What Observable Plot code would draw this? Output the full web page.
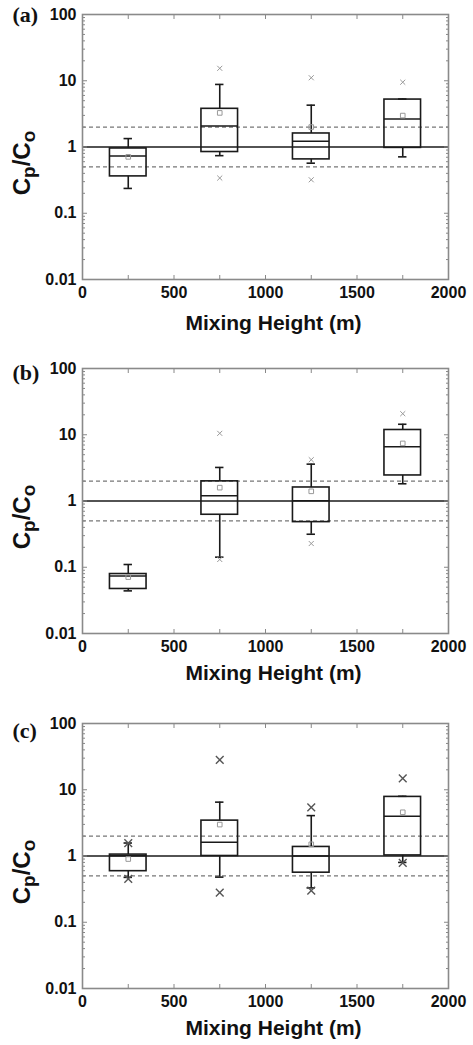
<!DOCTYPE html>
<html><head><meta charset="utf-8">
<script src="https://cdn.jsdelivr.net/npm/d3@7"></script>
<script src="https://cdn.jsdelivr.net/npm/@observablehq/plot@0.6"></script>
<style>
body{margin:0;background:#fff;}
#wrap{position:relative;width:473px;height:1045px;overflow:hidden;background:#fff;}
.panel{position:absolute;left:0;}
</style></head><body><div id="wrap"></div>
<script>
// ---- data ----
const mixingHeights = [250, 750, 1250, 1750];
const panelLabels = ["(a)", "(b)", "(c)"];
const xTicks = [0, 500, 1000, 1500, 2000];
const xMinorTicks = [250, 500, 750, 1000, 1250, 1500, 1750];
const yTicks = [0.01, 0.1, 1, 10, 100];
const yTickLabels = ["0.01", "0.1", "1", "10", "100"];
const refLine = [1];
const factorOfTwoLines = [0.5, 2];
const xTitle = "Mixing Height (m)";

// box statistics per panel [(a), (b), (c)], per mixing-height bin
const whiskerLow  = [[0.237, 0.74, 0.57, 0.71], [0.044, 0.142, 0.315, 1.82], [0.476, 0.48, 0.33, 0.80]];
const quartile1   = [[0.36, 0.84, 0.65, 0.97],  [0.047, 0.62, 0.48, 2.43],   [0.59, 1.00, 0.56, 1.02]];
const median      = [[0.73, 2.08, 1.22, 2.65],  [0.0736, 1.20, 1.01, 6.6],   [1.01, 1.61, 1.00, 3.98]];
const quartile3   = [[0.95, 3.77, 1.60, 5.2],   [0.079, 1.98, 1.60, 11.8],   [1.05, 3.42, 1.37, 7.8]];
const whiskerHigh = [[1.34, 8.8, 4.28, 5.3],    [0.11, 3.21, 3.6, 14.4],     [1.57, 6.5, 4.07, 7.97]];
const meanValue   = [[0.71, 3.27, 2.0, 2.98],   [0.071, 1.59, 1.40, 7.4],    [0.90, 2.98, 1.50, 4.57]];
const outlierLow  = [[null, 0.34, 0.32, null],  [null, 0.131, 0.228, null],  [0.45, 0.279, 0.30, 0.785]];
const outlierHigh = [[null, 15.4, 11.1, 9.5],   [null, 10.5, 4.2, 20.8],     [1.57, 28.2, 5.4, 14.9]];

// ---- layout / style ----
const panelTops = [0, 354, 709];
const labelDy = [7, 11, 14];
const titleDy = [44, 40, 40];
const boxHalf = 100, capHalf = 23;
const yMinorTicks = [];
for (let e = -2; e < 2; e++) for (let m = 2; m <= 9; m++) yMinorTicks.push(m * Math.pow(10, e));

const wrap = document.getElementById("wrap");
const font = "'Liberation Sans', Arial, sans-serif";

panelLabels.forEach((lab, p) => {
  const rows = mixingHeights.map((h, i) => ({
    h, lo: whiskerLow[p][i], q1: quartile1[p][i], med: median[p][i], q3: quartile3[p][i],
    hi: whiskerHigh[p][i], mean: meanValue[p][i], oLo: outlierLow[p][i], oHi: outlierHigh[p][i]
  }));
  const big = p === 2;
  const outStyle = {symbol: "times", r: big ? 3.6 : 2.4, stroke: big ? "#555" : "#999", strokeWidth: big ? 1.4 : 1};
  const line = {stroke: "#1a1a1a", strokeWidth: 1.6};
  const noText = () => "";
  const tickStyle = {tickFormat: noText, label: null, stroke: "#888", strokeWidth: 1};
  const chart = Plot.plot({
    width: 473, height: 336,
    marginLeft: 82, marginRight: 25, marginTop: 14, marginBottom: 57,
    style: {fontFamily: font, background: "white", overflow: "visible"},
    x: {domain: [0, 2000], label: null},
    y: {type: "log", domain: [0.01, 100], label: null},
    marks: [
      Plot.ruleY(factorOfTwoLines, {stroke: "#777", strokeWidth: 1.3, strokeDasharray: "4,3"}),
      Plot.ruleY(refLine, {stroke: "#1a1a1a", strokeWidth: 1.6}),
      Plot.ruleX(rows, {x: "h", y1: "q3", y2: "hi", ...line}),
      Plot.ruleX(rows, {x: "h", y1: "lo", y2: "q1", ...line}),
      Plot.ruleY(rows, {y: "hi", x1: d => d.h - capHalf, x2: d => d.h + capHalf, ...line}),
      Plot.ruleY(rows, {y: "lo", x1: d => d.h - capHalf, x2: d => d.h + capHalf, ...line}),
      Plot.rect(rows, {x1: d => d.h - boxHalf, x2: d => d.h + boxHalf, y1: "q1", y2: "q3", fill: "none", ...line}),
      Plot.ruleY(rows, {y: "med", x1: d => d.h - boxHalf, x2: d => d.h + boxHalf, ...line}),
      Plot.dot(rows, {x: "h", y: "mean", symbol: "square", r: 2.6, stroke: "#999", strokeWidth: 1}),
      Plot.dot(rows.filter(d => d.oHi != null), {x: "h", y: "oHi", ...outStyle}),
      Plot.dot(rows.filter(d => d.oLo != null), {x: "h", y: "oLo", ...outStyle}),
      // inward ticks
      Plot.axisX(xMinorTicks, {anchor: "bottom", tickSize: 4, dy: -4, ...tickStyle}),
      Plot.axisX(xMinorTicks, {anchor: "top", tickSize: 4, dy: 4, ...tickStyle}),
      Plot.axisY(yMinorTicks, {anchor: "left", tickSize: 3, dx: 3, ...tickStyle}),
      Plot.axisY(yMinorTicks, {anchor: "right", tickSize: 3, dx: -3, ...tickStyle}),
      Plot.axisY(yTicks, {anchor: "left", tickSize: 5, dx: 5, ...tickStyle}),
      Plot.axisY(yTicks, {anchor: "right", tickSize: 5, dx: -5, ...tickStyle}),
      Plot.frame({stroke: "#8a8a8a", strokeWidth: 1.6}),
      Plot.axisX(xTicks, {anchor: "bottom", tickSize: 0, tickPadding: 7, fontSize: 16, fontWeight: "bold", fill: "#111",
        tickFormat: d => String(d), label: null}),
      Plot.axisY(yTicks, {anchor: "left", tickSize: 0, tickPadding: 6, fontSize: 16, fontWeight: "bold", fill: "#111",
        tickFormat: d => yTickLabels[yTicks.indexOf(d)], label: null}),
      Plot.text([lab], {frameAnchor: "top-left", textAnchor: "start", lineAnchor: "bottom", dx: -70, dy: labelDy[p],
        fontFamily: "'Liberation Serif', 'Times New Roman', serif", fontWeight: "bold", fontSize: 22, fill: "#111"}),
      Plot.text([xTitle], {frameAnchor: "bottom", lineAnchor: "middle", dx: 8, dy: titleDy[p],
        fontSize: 21, fontWeight: "bold", fill: "#111"})
    ]
  });
  chart.classList.add("panel");
  chart.style.top = panelTops[p] + "px";
  // y-axis title with subscripts
  const svg = d3.select(chart);
  const t = svg.append("text")
    .attr("transform", "translate(30,163) rotate(-90)")
    .attr("text-anchor", "middle")
    .attr("font-family", font).attr("font-weight", "bold").attr("font-size", 24).attr("fill", "#111");
  t.append("tspan").text("C");
  t.append("tspan").attr("dy", 5).attr("font-size", 19).text("p");
  t.append("tspan").attr("dy", -5).text("/C");
  t.append("tspan").attr("dy", 5).attr("font-size", 19).text("o");
  wrap.appendChild(chart);
});
</script></body></html>
